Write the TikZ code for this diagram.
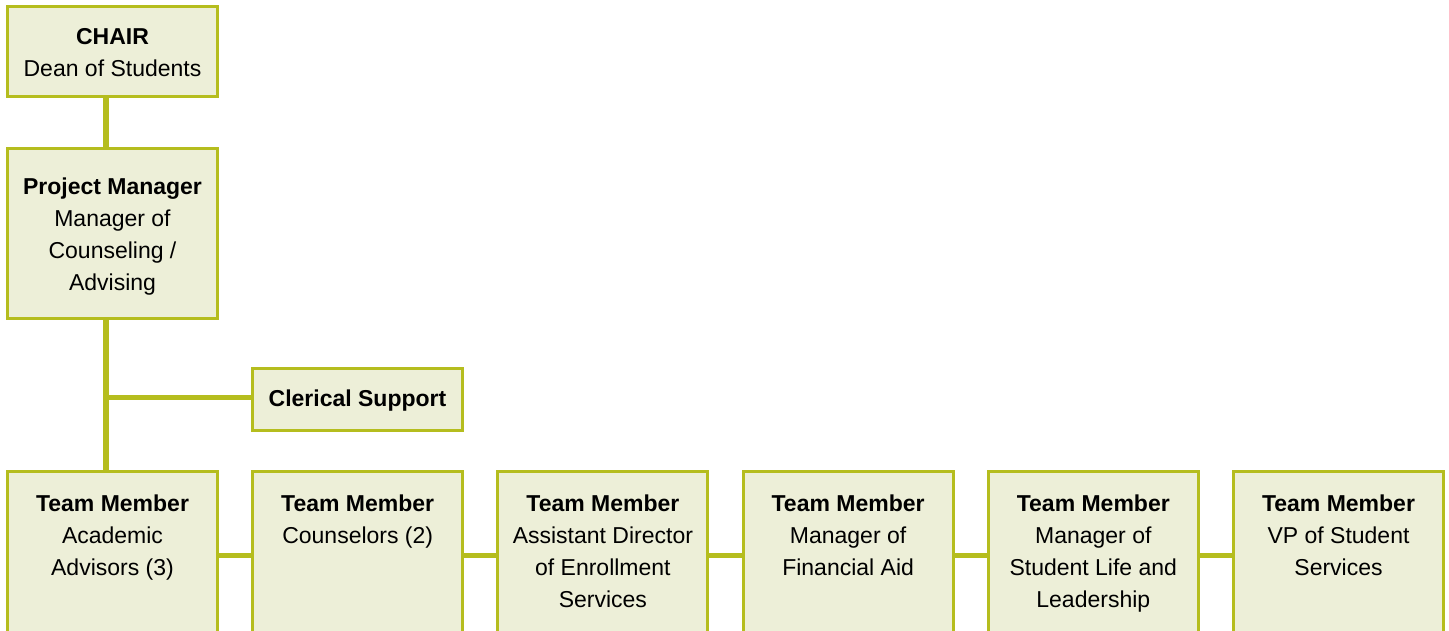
\documentclass[tikz,border=0pt]{standalone}
\usepackage{fontspec}
\setmainfont{Liberation Sans}
\usetikzlibrary{backgrounds}
\definecolor{boxline}{HTML}{B5BD1E}
\definecolor{boxfill}{HTML}{EDEFD8}
\tikzset{
  orgbox/.style={draw=boxline, fill=boxfill, line width=3pt, inner sep=0pt, minimum width=210pt, align=center,
    font=\fontsize{23}{32}\selectfont},
  tmbox/.style={draw=boxline, fill=boxfill, line width=3pt, inner sep=0pt, minimum width=210pt, minimum height=230pt, anchor=north},
  tmtext/.style={anchor=north, inner sep=0pt, align=center, font=\fontsize{23}{32}\selectfont},
  conn/.style={draw=boxline, line width=5.5pt}
}
\begin{document}
\begin{tikzpicture}[x=1pt,y=-1pt]
\useasboundingbox (0,0) rectangle (1449,630);
\clip (0,0) rectangle (1449,630);
\node[orgbox, minimum height=90pt] (chair) at (112.5,51.5) {\rule{0pt}{19pt}\textbf{CHAIR}\\Dean of Students};
\node[orgbox, minimum height=170pt] (pm) at (112.5,233.5) {\rule{0pt}{22.8pt}\textbf{Project Manager}\\Manager of\\Counseling /\\Advising};
\node[orgbox, minimum height=62pt] (cler) at (357.5,399.5) {\rule{0pt}{19pt}\textbf{Clerical Support}};
\foreach \i/\n in {0/tA,1/tB,2/tC,3/tD,4/tE,5/tF}{
  \node[tmbox] (\n) at ({112.5+245.2*\i},469.5) {};
}
\begin{scope}[on background layer]
\draw[conn] ([xshift=-6.5pt]chair.south) -- ([xshift=-6.5pt]pm.north);
\coordinate (trunk) at ([xshift=-6.5pt]pm.south);
\draw[conn] (trunk) -- (trunk |- tA.north);
\draw[conn] ([yshift=2pt]trunk |- cler.west) -- ([yshift=2pt]cler.west);
\foreach \a/\b in {tA/tB,tB/tC,tC/tD,tD/tE,tE/tF}{
  \draw[conn] ([yshift=30.5pt]\a.east) -- ([yshift=30.5pt]\b.west);
}
\end{scope}
\node[tmtext] (tAt) at ([yshift=-25pt]tA.north) {\textbf{Team Member}\\Academic\\Advisors (3)};
\node[tmtext] (tBt) at ([yshift=-25pt]tB.north) {\textbf{Team Member}\\Counselors (2)};
\node[tmtext] (tCt) at ([yshift=-25pt]tC.north) {\textbf{Team Member}\\Assistant Director\\of Enrollment\\Services};
\node[tmtext] (tDt) at ([yshift=-25pt]tD.north) {\textbf{Team Member}\\Manager of\\Financial Aid};
\node[tmtext] (tEt) at ([yshift=-25pt]tE.north) {\textbf{Team Member}\\Manager of\\Student Life and\\Leadership};
\node[tmtext] (tFt) at ([yshift=-25pt]tF.north) {\textbf{Team Member}\\VP of Student\\Services};
\end{tikzpicture}
\end{document}
